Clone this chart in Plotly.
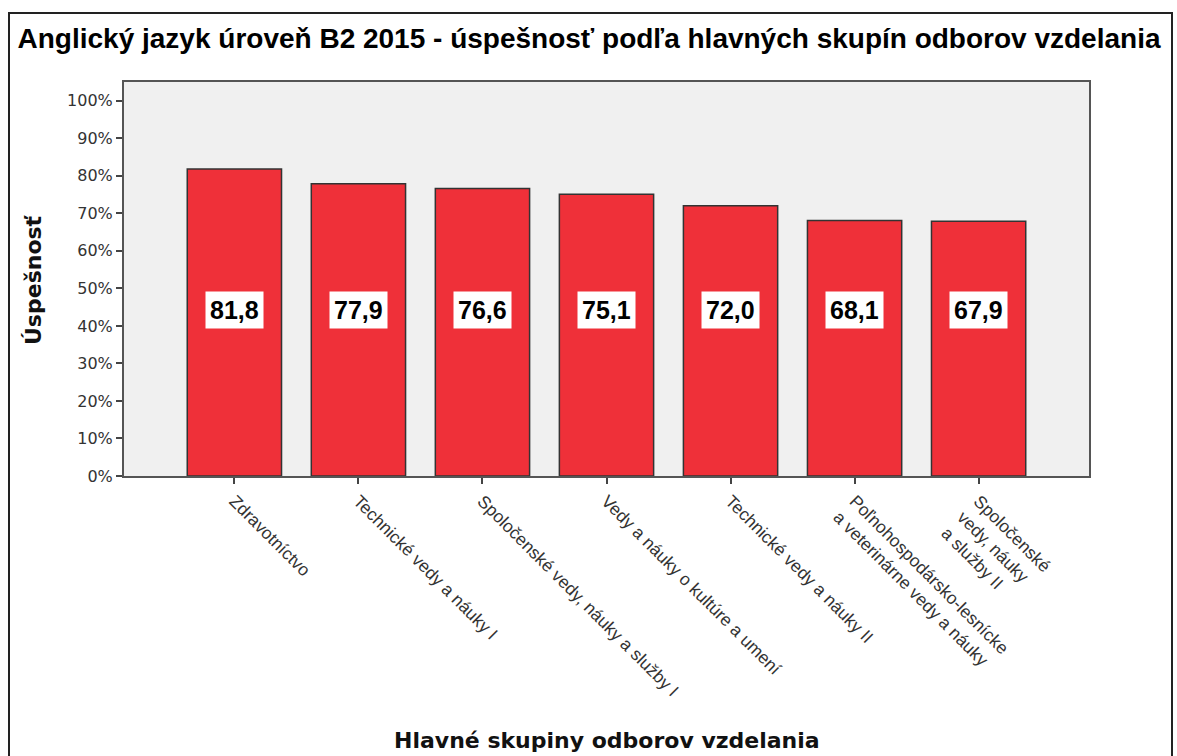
import plotly.graph_objects as go

categories = [
    "Zdravotníctvo",
    "Technické vedy a náuky I",
    "Spoločenské vedy, náuky a služby I",
    "Vedy a náuky o kultúre a umení",
    "Technické vedy a náuky II",
    "Poľnohospodársko-lesnícke<br>a veterinárne vedy a náuky",
    "Spoločenské<br>vedy, náuky<br>a služby II",
]
values = [81.8, 77.9, 76.6, 75.1, 72.0, 68.1, 67.9]
value_labels = ["81,8", "77,9", "76,6", "75,1", "72,0", "68,1", "67,9"]
y_ticks = [0, 10, 20, 30, 40, 50, 60, 70, 80, 90, 100]
y_tick_labels = [f"{t}%" for t in y_ticks]

title_text = "Anglický jazyk úroveň B2 2015 - úspešnosť podľa hlavných skupín odborov vzdelania"
x_title = "Hlavné skupiny odborov vzdelania"
y_title = "Úspešnosť"

xs = list(range(len(categories)))

W, H = 1177, 756
PL, PR, PT, PB = 124, 1089, 82, 476  # plot area in page pixels


def px(page_x):
    return (page_x - PL) / (PR - PL)


def py(page_y):
    return (PB - page_y) / (PB - PT)


fig = go.Figure()
fig.add_trace(go.Bar(
    x=xs,
    y=values,
    width=0.76,
    marker=dict(color="#EF3039", line=dict(color="#333333", width=1.5)),
    hoverinfo="skip",
))

label_y = 44.3
for x, lab in zip(xs, value_labels):
    fig.add_annotation(
        x=x, y=label_y, xref="x", yref="y", text=f"<b>{lab}</b>",
        showarrow=False, bgcolor="white", borderpad=4,
        font=dict(family="Liberation Sans, Arial", size=25, color="black"),
    )

fig.update_layout(
    width=W, height=H,
    margin=dict(l=PL, r=W - PR, t=PT, b=H - PB),
    paper_bgcolor="white",
    plot_bgcolor="#F0F0F0",
    showlegend=False,
    title=dict(
        text=f"<b>{title_text}</b>",
        x=px(589), xanchor="center", xref="paper",
        y=1 - 38 / H, yanchor="middle", yref="container",
        font=dict(family="Liberation Sans, Arial", size=28, color="black"),
    ),
    font=dict(family="Liberation Sans, Arial", color="#333333"),
)

fig.update_xaxes(
    range=[-0.89, 6.89],
    tickmode="array", tickvals=xs, ticktext=categories,
    tickangle=45,
    tickfont=dict(family="Liberation Sans, Arial", size=17.5, color="#333333"),
    ticks="outside", ticklen=6, tickcolor="#444444", tickwidth=1.5,
    showline=True, linecolor="#555555", linewidth=2, mirror=True,
    showgrid=False, zeroline=False,
)
fig.update_yaxes(
    range=[0, 105],
    tickmode="array", tickvals=y_ticks, ticktext=y_tick_labels,
    tickfont=dict(family="DejaVu Sans", size=16, color="#333333"),
    ticks="outside", ticklen=6, tickcolor="#444444", tickwidth=1.5,
    showline=True, linecolor="#555555", linewidth=2, mirror=True,
    showgrid=False, zeroline=False,
)

fig.add_annotation(
    x=px(33), y=py(280), xref="paper", yref="paper",
    text=f"<b>{y_title}</b>", textangle=-90, showarrow=False,
    xanchor="center", yanchor="middle",
    font=dict(family="DejaVu Sans", size=22, color="#111111"),
)
fig.add_annotation(
    x=px(607), y=py(741), xref="paper", yref="paper",
    text=f"<b>{x_title}</b>", showarrow=False,
    xanchor="center", yanchor="middle",
    font=dict(family="DejaVu Sans", size=22, color="#111111"),
)

# outer frame
fig.add_shape(
    type="rect", xref="paper", yref="paper",
    x0=px(9), x1=px(1172),
    y0=py(770), y1=py(13),
    line=dict(color="#222222", width=2), fillcolor="rgba(0,0,0,0)",
    layer="below",
)

fig.write_html(
    "out.html",
    config={"displayModeBar": False},
    post_script="document.body.style.margin='0';document.body.style.overflow='hidden';",
)
